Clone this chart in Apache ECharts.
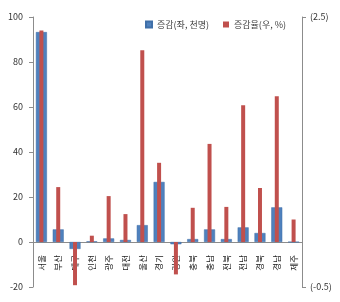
<!DOCTYPE html>
<html><head><meta charset="utf-8">
<script src="https://cdn.jsdelivr.net/npm/echarts@6/dist/echarts.min.js"></script>
<style>html,body{margin:0;padding:0;background:#fff}#c{width:340px;height:302px}</style>
</head><body><div id="c"></div>
<script>
const categories = ['서울','부산','대구','인천','광주','대전','울산','경기','강원','충북','충남','전북','전남','경북','경남','제주'];
const changeThousand = [93.3, 5.6, -3.1, 0.3, 1.6, 0.9, 7.5, 26.7, -1.0, 1.3, 5.6, 1.3, 6.5, 4.0, 15.4, 0];
const changeRate = [2.35, 0.61, -0.48, 0.07, 0.51, 0.31, 2.13, 0.88, -0.36, 0.38, 1.09, 0.39, 1.52, 0.60, 1.62, 0.25];
const leftTicks = [-20, 0, 20, 40, 60, 80, 100];
const rightTicks = [-0.5, 2.5];
const seriesNames = ['증감(좌, 천명)', '증감율(우, %)'];

const font = '"Noto Sans CJK KR", "Noto Sans", sans-serif';
const gridTop = 17, gridBottom = 15, H = 302;
const plotH = H - gridTop - gridBottom;
const zeroShift = -plotH * (0 - leftTicks[0]) / (leftTicks[leftTicks.length - 1] - leftTicks[0]);

const chart = echarts.init(document.getElementById('c'), null, {renderer: 'canvas'});
chart.setOption({
  animation: false,
  textStyle: {fontFamily: font},
  legend: {
    left: 140, top: 15, itemWidth: 6, itemHeight: 6, icon: 'rect', itemGap: 14,
    textStyle: {fontSize: 9, color: '#404040', fontFamily: font},
    data: seriesNames
  },
  grid: {left: 33, right: 38, top: gridTop, bottom: gridBottom, containLabel: false, outerBoundsMode: 'none'},
  xAxis: [
    {type: 'category', data: categories, position: 'bottom', offset: zeroShift,
     axisLine: {onZero: false, lineStyle: {color: '#8c8c8c'}},
     axisTick: {show: false},
     axisLabel: {interval: 0, rotate: 90, fontSize: 8.5, color: '#222', margin: 13}},
    {type: 'category', data: categories, show: false, position: 'bottom'}
  ],
  yAxis: [
    {type: 'value', min: -20, max: 100, interval: 20, splitLine: {show: false},
     axisLine: {show: true, lineStyle: {color: '#8c8c8c'}},
     axisTick: {show: true, length: 4, lineStyle: {color: '#8c8c8c'}},
     axisLabel: {fontSize: 9, color: '#333', margin: 10, customValues: leftTicks}},
    {type: 'value', min: -0.5, max: 2.5, splitLine: {show: false},
     axisLine: {show: true, lineStyle: {color: '#8c8c8c'}},
     axisTick: {show: true, length: 4, customValues: rightTicks, lineStyle: {color: '#8c8c8c'}},
     axisLabel: {fontSize: 9, color: '#333', margin: 8, customValues: rightTicks,
       formatter: v => '(' + v + ')'}}
  ],
  series: [
    {name: seriesNames[0], type: 'bar', xAxisIndex: 0, yAxisIndex: 0, data: changeThousand,
     barWidth: 11, itemStyle: {color: '#4F81BD', borderColor: '#3f6fa8', borderWidth: 0.5}},
    {name: seriesNames[1], type: 'bar', xAxisIndex: 1, yAxisIndex: 1, data: changeRate,
     barWidth: 4, z: 3, itemStyle: {color: '#C0504D'}}
  ]
});
</script></body></html>
